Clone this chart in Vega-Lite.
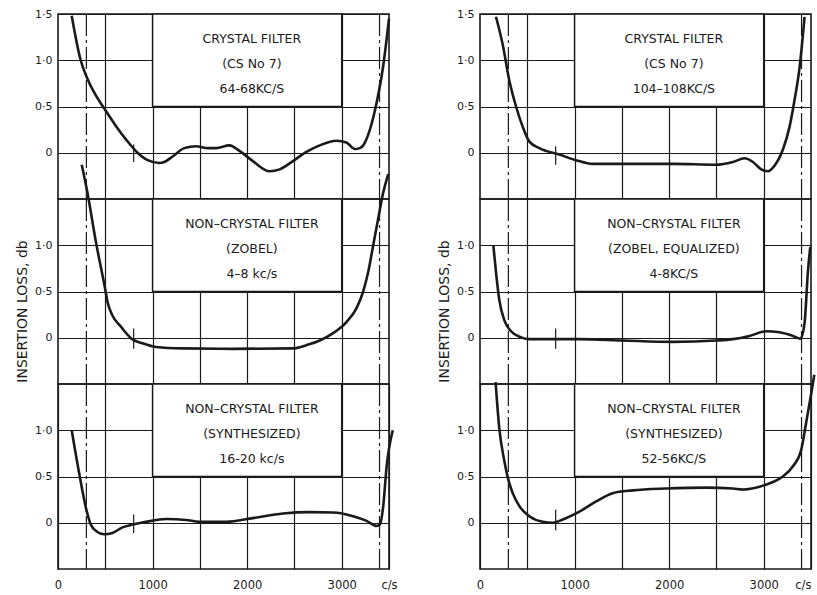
{
  "$schema": "https://vega.github.io/schema/vega-lite/v6.json",
  "background": "white",
  "padding": {"left": 14, "top": 7, "right": 0, "bottom": 0},
  "config": {
    "font": "DejaVu Sans",
    "view": {"stroke": "#1a1a1a", "strokeWidth": 1.6},
    "axis": {
      "grid": true, "gridColor": "#1a1a1a", "gridWidth": 1.2, "gridOpacity": 1,
      "domain": false, "ticks": false,
      "labelFont": "DejaVu Sans", "labelFontSize": 11, "labelColor": "#1a1a1a",
      "labelOverlap": false, "labelFlush": false,
      "titleFont": "DejaVu Sans", "titleFontSize": 14, "titleFontWeight": "normal", "titleColor": "#1a1a1a"
    },
    "axisY": {"labelPadding": 6, "titlePadding": 5},
    "axisX": {"labelPadding": 10},
    "text": {"lineBreak": "\n", "lineHeight": 25, "fontSize": 12.5, "font": "DejaVu Sans", "color": "#1a1a1a", "baseline": "middle", "align": "center"}
  },
  "datasets": {
    "edges": [{"f": 300}, {"f": 3400}],
    "lt": [
      {"f": 145, "db": 1.48}, {"f": 240, "db": 1.0}, {"f": 311, "db": 0.8}, {"f": 400, "db": 0.62},
      {"f": 488, "db": 0.48}, {"f": 612, "db": 0.29}, {"f": 718, "db": 0.145}, {"f": 841, "db": 0.0},
      {"f": 947, "db": -0.08}, {"f": 1071, "db": -0.11}, {"f": 1124, "db": -0.1}, {"f": 1212, "db": -0.04},
      {"f": 1336, "db": 0.05}, {"f": 1460, "db": 0.07}, {"f": 1584, "db": 0.05}, {"f": 1672, "db": 0.05},
      {"f": 1813, "db": 0.08}, {"f": 1919, "db": 0.02}, {"f": 2060, "db": -0.09}, {"f": 2238, "db": -0.2},
      {"f": 2344, "db": -0.18}, {"f": 2485, "db": -0.09}, {"f": 2626, "db": 0.01}, {"f": 2768, "db": 0.08},
      {"f": 2944, "db": 0.13}, {"f": 3050, "db": 0.11}, {"f": 3139, "db": 0.04}, {"f": 3190, "db": 0.05},
      {"f": 3227, "db": 0.08}, {"f": 3298, "db": 0.25}, {"f": 3369, "db": 0.54}, {"f": 3439, "db": 0.94},
      {"f": 3500, "db": 1.45}
    ],
    "lm": [
      {"f": 251, "db": 1.87}, {"f": 311, "db": 1.57}, {"f": 400, "db": 1.04}, {"f": 498, "db": 0.53},
      {"f": 523, "db": 0.39}, {"f": 576, "db": 0.24}, {"f": 665, "db": 0.12}, {"f": 777, "db": -0.01},
      {"f": 894, "db": -0.06}, {"f": 1036, "db": -0.1}, {"f": 1318, "db": -0.115}, {"f": 1849, "db": -0.12},
      {"f": 2485, "db": -0.115}, {"f": 2626, "db": -0.08}, {"f": 2768, "db": -0.03}, {"f": 2909, "db": 0.05},
      {"f": 3050, "db": 0.17}, {"f": 3157, "db": 0.32}, {"f": 3227, "db": 0.5}, {"f": 3280, "db": 0.71},
      {"f": 3333, "db": 1.0}, {"f": 3386, "db": 1.29}, {"f": 3439, "db": 1.57}, {"f": 3492, "db": 1.77}
    ],
    "lb": [
      {"f": 145, "db": 1.0}, {"f": 223, "db": 0.54}, {"f": 300, "db": 0.14}, {"f": 347, "db": -0.02},
      {"f": 417, "db": -0.1}, {"f": 488, "db": -0.125}, {"f": 576, "db": -0.11}, {"f": 682, "db": -0.05},
      {"f": 788, "db": -0.02}, {"f": 930, "db": 0.01}, {"f": 1142, "db": 0.04}, {"f": 1354, "db": 0.03},
      {"f": 1495, "db": 0.01}, {"f": 1778, "db": 0.01}, {"f": 2060, "db": 0.05}, {"f": 2379, "db": 0.1},
      {"f": 2662, "db": 0.115}, {"f": 2909, "db": 0.11}, {"f": 3121, "db": 0.07}, {"f": 3263, "db": 0.02},
      {"f": 3369, "db": -0.035}, {"f": 3404, "db": -0.02}, {"f": 3439, "db": 0.18}, {"f": 3475, "db": 0.61},
      {"f": 3540, "db": 1.0}
    ],
    "rt": [
      {"f": 169, "db": 1.47}, {"f": 240, "db": 1.17}, {"f": 310, "db": 0.78}, {"f": 381, "db": 0.5},
      {"f": 452, "db": 0.28}, {"f": 522, "db": 0.12}, {"f": 628, "db": 0.05}, {"f": 839, "db": -0.02},
      {"f": 1016, "db": -0.08}, {"f": 1192, "db": -0.12}, {"f": 1510, "db": -0.12}, {"f": 2039, "db": -0.12},
      {"f": 2497, "db": -0.13}, {"f": 2674, "db": -0.1}, {"f": 2797, "db": -0.06}, {"f": 2886, "db": -0.1},
      {"f": 2974, "db": -0.18}, {"f": 3044, "db": -0.2}, {"f": 3114, "db": -0.14}, {"f": 3203, "db": 0.035},
      {"f": 3273, "db": 0.28}, {"f": 3326, "db": 0.57}, {"f": 3379, "db": 0.92}, {"f": 3432, "db": 1.47}
    ],
    "rm": [
      {"f": 141, "db": 1.0}, {"f": 169, "db": 0.71}, {"f": 204, "db": 0.41}, {"f": 257, "db": 0.19},
      {"f": 328, "db": 0.07}, {"f": 434, "db": 0.004}, {"f": 522, "db": -0.015}, {"f": 698, "db": -0.015},
      {"f": 1051, "db": -0.015}, {"f": 1510, "db": -0.03}, {"f": 2039, "db": -0.045}, {"f": 2497, "db": -0.03},
      {"f": 2674, "db": -0.015}, {"f": 2850, "db": 0.02}, {"f": 3026, "db": 0.07}, {"f": 3167, "db": 0.06},
      {"f": 3309, "db": 0.02}, {"f": 3389, "db": -0.01}, {"f": 3432, "db": 0.16}, {"f": 3467, "db": 0.71},
      {"f": 3492, "db": 0.98}
    ],
    "rb": [
      {"f": 165, "db": 1.52}, {"f": 204, "db": 1.02}, {"f": 257, "db": 0.67}, {"f": 293, "db": 0.49},
      {"f": 346, "db": 0.32}, {"f": 416, "db": 0.18}, {"f": 522, "db": 0.07}, {"f": 663, "db": 0.01},
      {"f": 769, "db": 0.0}, {"f": 875, "db": 0.035}, {"f": 1051, "db": 0.12}, {"f": 1228, "db": 0.23},
      {"f": 1404, "db": 0.32}, {"f": 1616, "db": 0.35}, {"f": 1968, "db": 0.37}, {"f": 2392, "db": 0.38},
      {"f": 2674, "db": 0.37}, {"f": 2780, "db": 0.36}, {"f": 2956, "db": 0.39}, {"f": 3097, "db": 0.44},
      {"f": 3203, "db": 0.5}, {"f": 3309, "db": 0.61}, {"f": 3397, "db": 0.79}, {"f": 3450, "db": 1.09},
      {"f": 3503, "db": 1.4}, {"f": 3535, "db": 1.6}
    ]
  },
  "columns": 2,
  "spacing": {"row": 0, "column": 91},
  "bounds": "flush",
  "concat": [
    {
      "width": 331, "height": 185,
      "layer": [
        {"data": {"name": "edges"}, "mark": {"type": "rule", "color": "#1a1a1a", "strokeWidth": 1.2, "strokeDash": [22, 4, 3, 4]},
         "encoding": {"x": {"field": "f", "type": "quantitative"}}},
        {"data": {"values": [{"label": "box"}]}, "mark": {"type": "rect", "fill": "white", "stroke": "#1a1a1a", "strokeWidth": 1.5},
         "encoding": {"x": {"datum": 1000}, "x2": {"datum": 3000}, "y": {"datum": 0.5}, "y2": {"datum": 1.5}}},
        {"data": {"values": [{"label": "CRYSTAL FILTER\n(CS No 7)\n64-68KC/S"}]}, "mark": {"type": "text"},
         "encoding": {"x": {"datum": 2050}, "y": {"datum": 1.235}, "text": {"field": "label"}}},
        {"data": {"values": [{"label": "ref"}]}, "mark": {"type": "rule", "color": "#1a1a1a", "strokeWidth": 1.2},
         "encoding": {"x": {"datum": 800}, "y": {"datum": -0.1}, "y2": {"datum": 0.09}}},
        {"data": {"name": "lt"}, "mark": {"type": "line", "color": "#1a1a1a", "strokeWidth": 2.6, "interpolate": "monotone"},
         "encoding": {
           "x": {"field": "f", "type": "quantitative", "scale": {"domain": [0, 3500], "nice": false, "zero": false},
                 "axis": {"title": null, "values": [500, 1000, 1500, 2000, 2500, 3000], "labels": false}},
           "y": {"field": "db", "type": "quantitative", "scale": {"domain": [-0.5, 1.5], "nice": false, "zero": false},
                 "axis": {"title": null, "values": [0, 0.5, 1, 1.5], "labelExpr": "datum.value == 0 ? '0' : datum.value == 0.5 ? '0·5' : datum.value == 1 ? '1·0' : '1·5'"}}
         }}
      ]
    },
    {
      "width": 331, "height": 185,
      "layer": [
        {"data": {"name": "edges"}, "mark": {"type": "rule", "color": "#1a1a1a", "strokeWidth": 1.2, "strokeDash": [22, 4, 3, 4]},
         "encoding": {"x": {"field": "f", "type": "quantitative"}}},
        {"data": {"values": [{"label": "box"}]}, "mark": {"type": "rect", "fill": "white", "stroke": "#1a1a1a", "strokeWidth": 1.5},
         "encoding": {"x": {"datum": 1000}, "x2": {"datum": 3000}, "y": {"datum": 0.5}, "y2": {"datum": 1.5}}},
        {"data": {"values": [{"label": "CRYSTAL FILTER\n(CS No 7)\n104–108KC/S"}]}, "mark": {"type": "text"},
         "encoding": {"x": {"datum": 2050}, "y": {"datum": 1.235}, "text": {"field": "label"}}},
        {"data": {"values": [{"label": "ref"}]}, "mark": {"type": "rule", "color": "#1a1a1a", "strokeWidth": 1.2},
         "encoding": {"x": {"datum": 800}, "y": {"datum": -0.13}, "y2": {"datum": 0.07}}},
        {"data": {"name": "rt"}, "mark": {"type": "line", "color": "#1a1a1a", "strokeWidth": 2.6, "interpolate": "monotone"},
         "encoding": {
           "x": {"field": "f", "type": "quantitative", "scale": {"domain": [0, 3500], "nice": false, "zero": false},
                 "axis": {"title": null, "values": [500, 1000, 1500, 2000, 2500, 3000], "labels": false}},
           "y": {"field": "db", "type": "quantitative", "scale": {"domain": [-0.5, 1.5], "nice": false, "zero": false},
                 "axis": {"title": null, "values": [0, 0.5, 1, 1.5], "labelExpr": "datum.value == 0 ? '0' : datum.value == 0.5 ? '0·5' : datum.value == 1 ? '1·0' : '1·5'"}}
         }}
      ]
    },
    {
      "width": 331, "height": 185,
      "layer": [
        {"data": {"name": "edges"}, "mark": {"type": "rule", "color": "#1a1a1a", "strokeWidth": 1.2, "strokeDash": [22, 4, 3, 4]},
         "encoding": {"x": {"field": "f", "type": "quantitative"}}},
        {"data": {"values": [{"label": "box"}]}, "mark": {"type": "rect", "fill": "white", "stroke": "#1a1a1a", "strokeWidth": 1.5},
         "encoding": {"x": {"datum": 1000}, "x2": {"datum": 3000}, "y": {"datum": 0.5}, "y2": {"datum": 1.5}}},
        {"data": {"values": [{"label": "NON–CRYSTAL FILTER\n(ZOBEL)\n4–8 kc/s"}]}, "mark": {"type": "text"},
         "encoding": {"x": {"datum": 2050}, "y": {"datum": 1.235}, "text": {"field": "label"}}},
        {"data": {"values": [{"label": "ref"}]}, "mark": {"type": "rule", "color": "#1a1a1a", "strokeWidth": 1.2},
         "encoding": {"x": {"datum": 800}, "y": {"datum": -0.12}, "y2": {"datum": 0.1}}},
        {"data": {"name": "lm"}, "mark": {"type": "line", "color": "#1a1a1a", "strokeWidth": 2.6, "interpolate": "monotone"},
         "encoding": {
           "x": {"field": "f", "type": "quantitative", "scale": {"domain": [0, 3500], "nice": false, "zero": false},
                 "axis": {"title": null, "values": [500, 1000, 1500, 2000, 2500, 3000], "labels": false}},
           "y": {"field": "db", "type": "quantitative", "scale": {"domain": [-0.5, 1.5], "nice": false, "zero": false},
                 "axis": {"title": "INSERTION LOSS, db", "titleY": 112, "values": [0, 0.5, 1], "labelExpr": "datum.value == 0 ? '0' : datum.value == 0.5 ? '0·5' : '1·0'"}}
         }}
      ]
    },
    {
      "width": 331, "height": 185,
      "layer": [
        {"data": {"name": "edges"}, "mark": {"type": "rule", "color": "#1a1a1a", "strokeWidth": 1.2, "strokeDash": [22, 4, 3, 4]},
         "encoding": {"x": {"field": "f", "type": "quantitative"}}},
        {"data": {"values": [{"label": "box"}]}, "mark": {"type": "rect", "fill": "white", "stroke": "#1a1a1a", "strokeWidth": 1.5},
         "encoding": {"x": {"datum": 1000}, "x2": {"datum": 3000}, "y": {"datum": 0.5}, "y2": {"datum": 1.5}}},
        {"data": {"values": [{"label": "NON–CRYSTAL FILTER\n(ZOBEL, EQUALIZED)\n4-8KC/S"}]}, "mark": {"type": "text"},
         "encoding": {"x": {"datum": 2050}, "y": {"datum": 1.235}, "text": {"field": "label"}}},
        {"data": {"values": [{"label": "ref"}]}, "mark": {"type": "rule", "color": "#1a1a1a", "strokeWidth": 1.2},
         "encoding": {"x": {"datum": 800}, "y": {"datum": -0.12}, "y2": {"datum": 0.1}}},
        {"data": {"name": "rm"}, "mark": {"type": "line", "color": "#1a1a1a", "strokeWidth": 2.6, "interpolate": "monotone"},
         "encoding": {
           "x": {"field": "f", "type": "quantitative", "scale": {"domain": [0, 3500], "nice": false, "zero": false},
                 "axis": {"title": null, "values": [500, 1000, 1500, 2000, 2500, 3000], "labels": false}},
           "y": {"field": "db", "type": "quantitative", "scale": {"domain": [-0.5, 1.5], "nice": false, "zero": false},
                 "axis": {"title": "INSERTION LOSS, db", "titleY": 112, "values": [0, 0.5, 1], "labelExpr": "datum.value == 0 ? '0' : datum.value == 0.5 ? '0·5' : '1·0'"}}
         }}
      ]
    },
    {
      "width": 331, "height": 185,
      "layer": [
        {"data": {"name": "edges"}, "mark": {"type": "rule", "color": "#1a1a1a", "strokeWidth": 1.2, "strokeDash": [22, 4, 3, 4]},
         "encoding": {"x": {"field": "f", "type": "quantitative"}}},
        {"data": {"values": [{"label": "box"}]}, "mark": {"type": "rect", "fill": "white", "stroke": "#1a1a1a", "strokeWidth": 1.5},
         "encoding": {"x": {"datum": 1000}, "x2": {"datum": 3000}, "y": {"datum": 0.5}, "y2": {"datum": 1.5}}},
        {"data": {"values": [{"label": "NON–CRYSTAL FILTER\n(SYNTHESIZED)\n16-20 kc/s"}]}, "mark": {"type": "text"},
         "encoding": {"x": {"datum": 2050}, "y": {"datum": 1.235}, "text": {"field": "label"}}},
        {"data": {"values": [{"label": "ref"}]}, "mark": {"type": "rule", "color": "#1a1a1a", "strokeWidth": 1.2},
         "encoding": {"x": {"datum": 800}, "y": {"datum": -0.11}, "y2": {"datum": 0.09}}},
        {"data": {"name": "lb"}, "mark": {"type": "line", "color": "#1a1a1a", "strokeWidth": 2.6, "interpolate": "monotone"},
         "encoding": {
           "x": {"field": "f", "type": "quantitative", "scale": {"domain": [0, 3500], "nice": false, "zero": false},
                 "axis": {"title": null, "values": [0, 500, 1000, 1500, 2000, 2500, 3000, 3500], "labelExpr": "datum.value == 3500 ? 'c/s' : datum.value % 1000 == 0 ? datum.value : ''", "labelFontSize": 11.5}},
           "y": {"field": "db", "type": "quantitative", "scale": {"domain": [-0.5, 1.5], "nice": false, "zero": false},
                 "axis": {"title": null, "values": [0, 0.5, 1], "labelExpr": "datum.value == 0 ? '0' : datum.value == 0.5 ? '0·5' : '1·0'"}}
         }}
      ]
    },
    {
      "width": 331, "height": 185,
      "layer": [
        {"data": {"name": "edges"}, "mark": {"type": "rule", "color": "#1a1a1a", "strokeWidth": 1.2, "strokeDash": [22, 4, 3, 4]},
         "encoding": {"x": {"field": "f", "type": "quantitative"}}},
        {"data": {"values": [{"label": "box"}]}, "mark": {"type": "rect", "fill": "white", "stroke": "#1a1a1a", "strokeWidth": 1.5},
         "encoding": {"x": {"datum": 1000}, "x2": {"datum": 3000}, "y": {"datum": 0.5}, "y2": {"datum": 1.5}}},
        {"data": {"values": [{"label": "NON–CRYSTAL FILTER\n(SYNTHESIZED)\n52-56KC/S"}]}, "mark": {"type": "text"},
         "encoding": {"x": {"datum": 2050}, "y": {"datum": 1.235}, "text": {"field": "label"}}},
        {"data": {"values": [{"label": "ref"}]}, "mark": {"type": "rule", "color": "#1a1a1a", "strokeWidth": 1.2},
         "encoding": {"x": {"datum": 800}, "y": {"datum": -0.08}, "y2": {"datum": 0.14}}},
        {"data": {"name": "rb"}, "mark": {"type": "line", "color": "#1a1a1a", "strokeWidth": 2.6, "interpolate": "monotone"},
         "encoding": {
           "x": {"field": "f", "type": "quantitative", "scale": {"domain": [0, 3500], "nice": false, "zero": false},
                 "axis": {"title": null, "values": [0, 500, 1000, 1500, 2000, 2500, 3000, 3500], "labelExpr": "datum.value == 3500 ? 'c/s' : datum.value % 1000 == 0 ? datum.value : ''", "labelFontSize": 11.5,
                          "labelAlign": {"condition": {"test": "datum.value == 3500", "value": "right"}, "value": "center"}}},
           "y": {"field": "db", "type": "quantitative", "scale": {"domain": [-0.5, 1.5], "nice": false, "zero": false},
                 "axis": {"title": null, "values": [0, 0.5, 1], "labelExpr": "datum.value == 0 ? '0' : datum.value == 0.5 ? '0·5' : '1·0'"}}
         }}
      ]
    }
  ]
}
